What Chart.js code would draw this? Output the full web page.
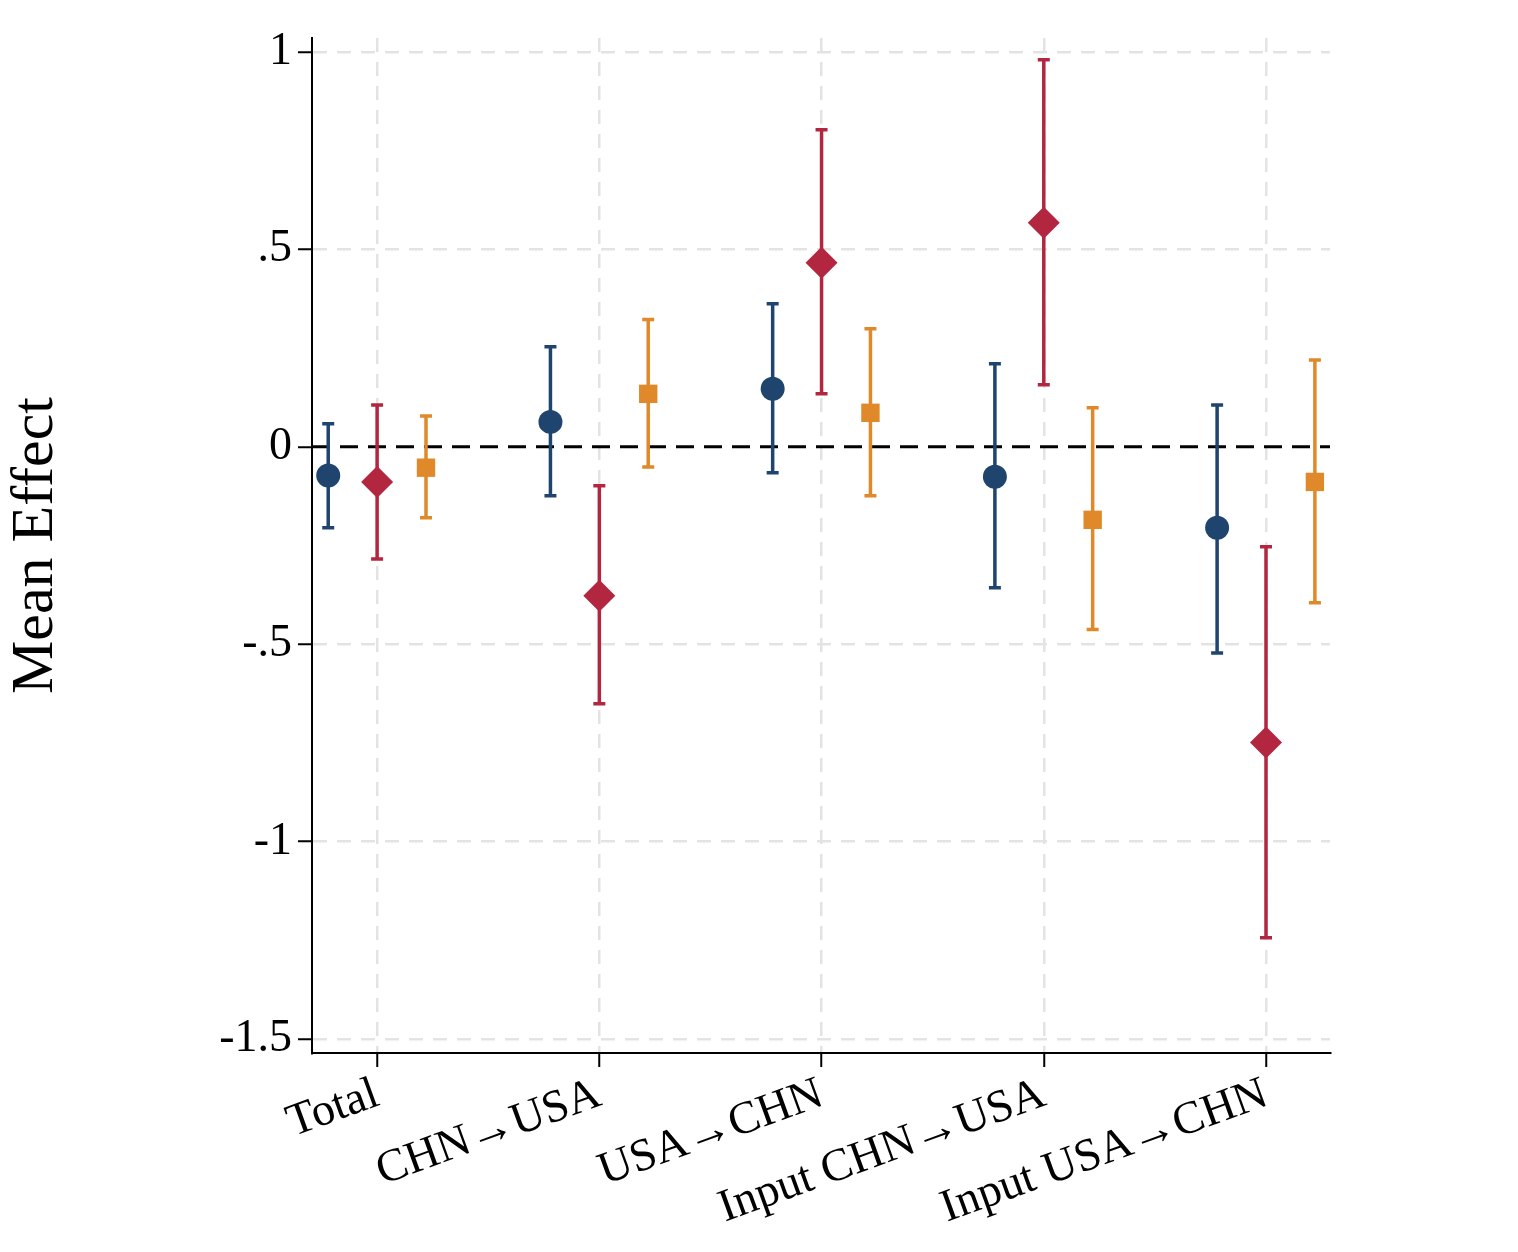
<!DOCTYPE html>
<html><head><meta charset="utf-8">
<script src="https://cdn.jsdelivr.net/npm/chart.js@4"></script>
<style>html,body{margin:0;padding:0;background:#fff}#wrap{width:1518px;height:1252px}</style>
</head><body><div id="wrap"><canvas id="c" width="1518" height="1252"></canvas></div>
<script>
const categories = ["Total","CHN\u2192USA","USA\u2192CHN","Input CHN\u2192USA","Input USA\u2192CHN"];
const yTicks = [1,0.5,0,-0.5,-1,-1.5];
const yTickLabels = ["1",".5","0","-.5","-1","-1.5"];
const blueMean = [-0.073,0.063,0.147,-0.076,-0.205];
const blueLo   = [-0.205,-0.124,-0.066,-0.357,-0.522];
const blueHi   = [0.058,0.253,0.362,0.210,0.106];
const redMean  = [-0.089,-0.377,0.466,0.567,-0.749];
const redLo    = [-0.284,-0.651,0.134,0.157,-1.243];
const redHi    = [0.106,-0.099,0.803,0.980,-0.253];
const orgMean  = [-0.053,0.134,0.086,-0.185,-0.089];
const orgLo    = [-0.180,-0.051,-0.124,-0.463,-0.395];
const orgHi    = [0.078,0.322,0.299,0.099,0.220];

const series = [
  {mean:blueMean,lo:blueLo,hi:blueHi,off:-0.22,color:'#1f456e',style:'circle',r:12},
  {mean:redMean,lo:redLo,hi:redHi,off:0,color:'#b32640',style:'rectRot',r:16},
  {mean:orgMean,lo:orgLo,hi:orgHi,off:0.22,color:'#e0892b',style:'rect',r:13}
];
const datasets = series.map(s=>({
  data: s.mean.map((v,i)=>({x:i+s.off,y:v,lo:s.lo[i],hi:s.hi[i]})),
  backgroundColor:s.color,borderColor:s.color,pointStyle:s.style,pointRadius:s.r,pointBorderWidth:0,
  showLine:false
}));

const errPlugin = {
  id:'err',
  beforeDatasetsDraw(chart){
    const ctx=chart.ctx, xs=chart.scales.x, ys=chart.scales.y, a=chart.chartArea;
    ctx.save();
    ctx.strokeStyle='#000';ctx.lineWidth=3;ctx.setLineDash([18,10]);
    const y0=ys.getPixelForValue(0);
    ctx.beginPath();ctx.moveTo(a.left,y0);ctx.lineTo(a.right,y0);ctx.stroke();
    ctx.setLineDash([]);
    chart.data.datasets.forEach(ds=>{
      ctx.strokeStyle=ds.borderColor;ctx.lineWidth=3.5;
      ds.data.forEach(p=>{
        const x=xs.getPixelForValue(p.x),yl=ys.getPixelForValue(p.lo),yh=ys.getPixelForValue(p.hi);
        ctx.beginPath();ctx.moveTo(x,yl);ctx.lineTo(x,yh);
        ctx.moveTo(x-6,yl);ctx.lineTo(x+6,yl);ctx.moveTo(x-6,yh);ctx.lineTo(x+6,yh);ctx.stroke();
      });
    });
    ctx.restore();
  }
};

new Chart(document.getElementById('c'),{
  type:'scatter',
  data:{datasets},
  plugins:[errPlugin],
  options:{
    responsive:false,animation:false,
    layout:{padding:{top:38,right:188,left:0,bottom:0}},
    plugins:{legend:{display:false},tooltip:{enabled:false}},
    scales:{
      x:{type:'linear',min:-0.293,max:4.288,
        afterBuildTicks(s){s.ticks=categories.map((c,i)=>({value:i}));},
        afterFit(s){s.height=199;},
        border:{color:'#000',width:2,dash:[14,10]},
        grid:{color:'#e3e3e3',lineWidth:2.5,tickColor:'#000',tickBorderDash:[],tickLength:14,tickWidth:2},
        ticks:{callback:(v)=>categories[v],minRotation:20,maxRotation:20,autoSkip:false,
          font:{family:'Liberation Serif',size:46},color:'#000',padding:0}
      },
      y:{min:-1.535,max:1.035,
        afterBuildTicks(s){s.ticks=yTicks.map(v=>({value:v}));},
        afterFit(s){s.width=312;},
        border:{color:'#000',width:2,dash:[14,10]},
        grid:{color:(c)=>c.tick&&c.tick.value===0?'rgba(0,0,0,0)':'#e3e3e3',lineWidth:2.5,tickColor:'#000',tickBorderDash:[],tickLength:14,tickWidth:2},
        ticks:{callback:(v)=>yTickLabels[yTicks.indexOf(v)],font:{family:'Liberation Serif',size:46},color:'#000',padding:6},
        title:{display:true,text:'Mean Effect',font:{family:'Liberation Serif',size:60},color:'#000',padding:{top:0,bottom:30}}
      }
    }
  }
});
</script></body></html>
